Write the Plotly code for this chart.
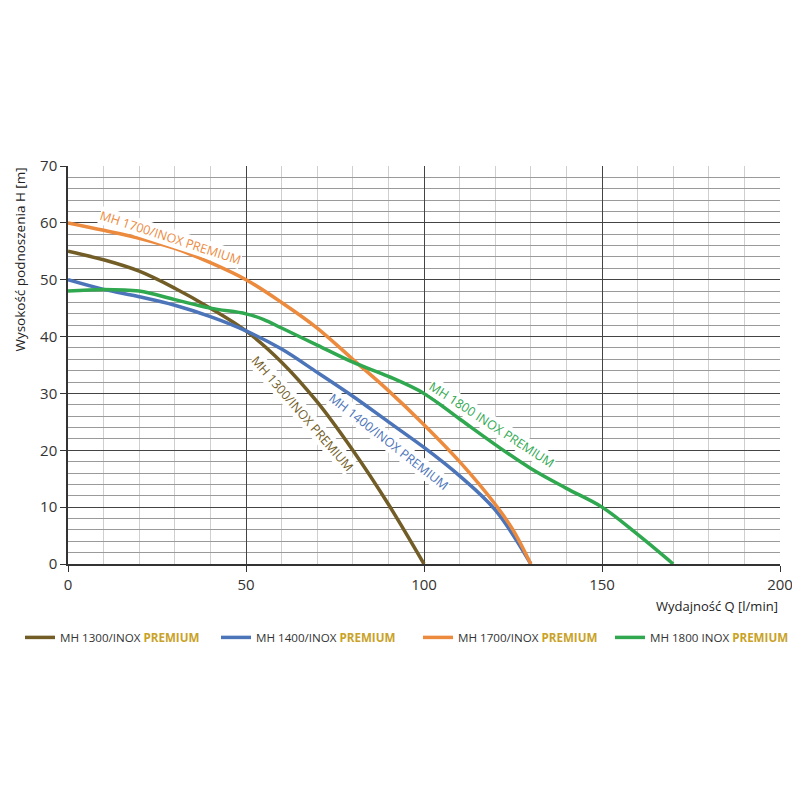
import plotly.graph_objects as go

GOLD = "#c9a227"

q_1300 = [0, 10, 20, 30, 40, 50, 60, 70, 80, 90, 100]
h_1300 = [55, 53.5, 51.5, 48.5, 45, 41, 35.5, 28.5, 20, 10.5, 0]

q_1400 = [0, 10, 20, 30, 40, 50, 60, 70, 80, 90, 100, 110, 120, 130]
h_1400 = [50, 48.3, 47, 45.5, 43.5, 41, 37.8, 33.7, 29.5, 25, 20.5, 15.5, 9.5, 0]

q_1700 = [0, 10, 20, 30, 40, 50, 60, 70, 80, 90, 100, 110, 120, 125, 130]
h_1700 = [60, 58.7, 57.3, 55.5, 53, 50, 46, 41.5, 36, 30.5, 24.5, 18, 10.5, 6, 0]

q_1800 = [0, 10, 20, 30, 40, 50, 55, 60, 70, 80, 90, 100, 110, 120, 130, 140, 150, 160, 170]
h_1800 = [48, 48.3, 48, 46.5, 45, 44, 43, 41.5, 38.5, 35.5, 33, 30, 25.5, 21, 16.8, 13.3, 10, 5.2, 0]

series_names = ["MH 1300/INOX", "MH 1400/INOX", "MH 1700/INOX", "MH 1800 INOX"]
series_colors = ["#725d27", "#4c74b9", "#ec8a3e", "#2fa84f"]
series_q = [q_1300, q_1400, q_1700, q_1800]
series_h = [h_1300, h_1400, h_1700, h_1800]

# curve labels: (text, Q, H, angle)
curve_labels = [
    ("MH 1300/INOX PREMIUM", 65.8, 26.5, 49),
    ("MH 1400/INOX PREMIUM", 90.0, 21.5, 38),
    ("MH 1700/INOX PREMIUM", 28.7, 57.5, 18),
    ("MH 1800 INOX PREMIUM", 119.0, 24.6, 33),
]

FONT = "Open Sans"
legend_ids = ["legend", "legend2", "legend3", "legend4"]
legend_x = [-0.0674, 0.2079, 0.4916, 0.7612]

fig = go.Figure()
for name, col, qs, hs, lid in zip(series_names, series_colors, series_q, series_h, legend_ids):
    fig.add_trace(go.Scatter(
        x=qs, y=hs, mode="lines",
        line=dict(color=col, width=3.5, shape="spline", smoothing=1.0),
        name=f"{name} <span style='color:{GOLD}'><b>PREMIUM</b></span>",
        hoverinfo="skip", legend=lid,
    ))

for (txt, qx, hy, ang), col in zip(curve_labels, series_colors):
    fig.add_annotation(
        x=qx, y=hy, xref="x", yref="y", text=txt, showarrow=False,
        textangle=ang, font=dict(family=FONT, size=12.5, color=col),
        bgcolor="white", borderpad=0,
    )

fig.add_annotation(
    x=1, y=-0.078, xref="paper", yref="paper", xanchor="right", yanchor="top",
    text="Wydajność Q [l/min]", showarrow=False,
    font=dict(family=FONT, size=13, color="#222222"),
)
fig.add_annotation(
    x=-0.068, y=1.0, xref="paper", yref="paper", xanchor="center", yanchor="top",
    text="Wysokość podnoszenia H [m]", showarrow=False, textangle=-90,
    font=dict(family=FONT, size=13.5, color="#222222"),
)

legend_common = dict(orientation="h", xanchor="left", y=-0.148, yanchor="top",
                     font=dict(family=FONT, size=11.6, color="#333333"),
                     itemwidth=30, bgcolor="rgba(0,0,0,0)")

fig.update_layout(
    width=800, height=800,
    margin=dict(l=60, r=28, t=158, b=244, autoexpand=False),
    paper_bgcolor="white", plot_bgcolor="white",
    font=dict(family=FONT, color="#333333"),
    showlegend=True,
    legend=dict(x=legend_x[0], **legend_common),
    legend2=dict(x=legend_x[1], **legend_common),
    legend3=dict(x=legend_x[2], **legend_common),
    legend4=dict(x=legend_x[3], **legend_common),
)
fig.update_xaxes(
    range=[0, 200], dtick=50, tick0=0, automargin=False,
    showgrid=True, gridcolor="#444444", gridwidth=1.2,
    minor=dict(dtick=10, showgrid=True, gridcolor="#cfcfcf", gridwidth=1),
    showline=True, linecolor="#333333", linewidth=1.5,
    ticks="outside", ticklen=6, tickcolor="#333333",
    tickfont=dict(size=15, color="#333333"), zeroline=False,
)
fig.update_yaxes(
    range=[0, 70], dtick=10, tick0=0, automargin=False,
    showgrid=True, gridcolor="#444444", gridwidth=1.2,
    minor=dict(dtick=2, showgrid=True, gridcolor="#9a9a9a", gridwidth=1),
    showline=True, linecolor="#333333", linewidth=1.5,
    ticks="outside", ticklen=6, tickcolor="#333333",
    tickfont=dict(size=15, color="#333333"), zeroline=False,
)

fig.write_html("out.html")
